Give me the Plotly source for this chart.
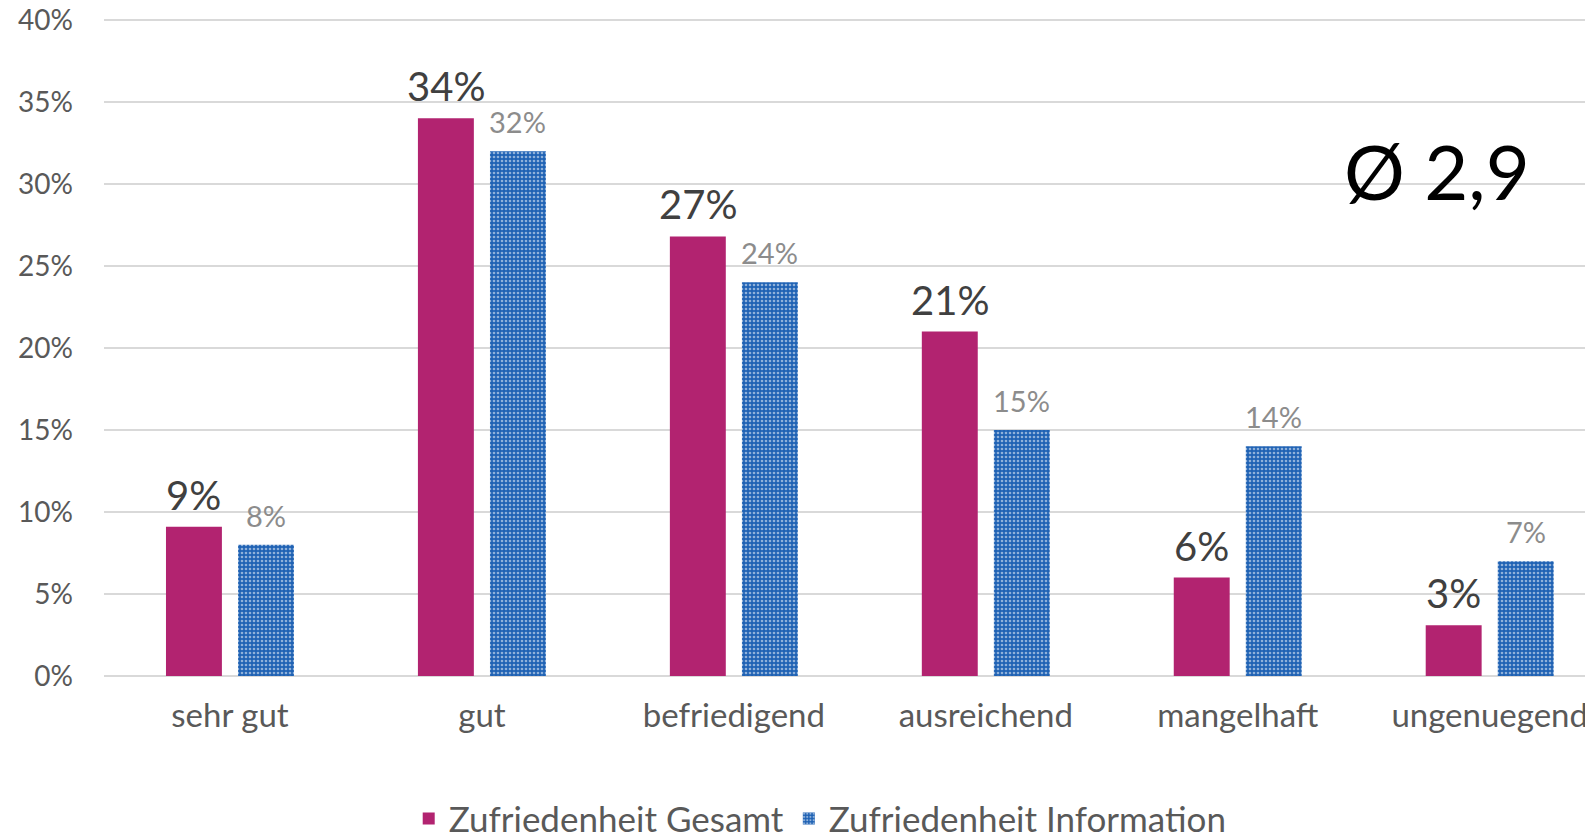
import plotly.graph_objects as go

categories = ["sehr gut", "gut", "befriedigend", "ausreichend", "mangelhaft", "ungenuegend"]
gesamt = [9.1, 34.0, 26.8, 21.0, 6.0, 3.1]
gesamt_labels = ["9%", "34%", "27%", "21%", "6%", "3%"]
information = [8.0, 32.0, 24.0, 15.0, 14.0, 7.0]
information_labels = ["8%", "32%", "24%", "15%", "14%", "7%"]
y_ticks = [0, 5, 10, 15, 20, 25, 30, 35, 40]
y_tick_labels = ["0%", "5%", "10%", "15%", "20%", "25%", "30%", "35%", "40%"]
average_text = "Ø 2,9"

FONT = "Lato"
PINK = "#B22370"
BLUE = "#1F62B4"
BAR_W = 0.222
SHIFT = 0.143

fig = go.Figure()

fig.add_trace(go.Bar(
    x=categories,
    y=gesamt,
    name="Zufriedenheit Gesamt",
    marker=dict(color=PINK, line=dict(width=0)),
    width=BAR_W,
    offset=-SHIFT - BAR_W / 2,
))

fig.add_trace(go.Bar(
    x=categories,
    y=information,
    name="Zufriedenheit Information",
    marker=dict(
        color=BLUE,
        line=dict(width=0),
        pattern=dict(shape=".", fgcolor="white", bgcolor=BLUE, size=4, solidity=0.35),
    ),
    width=BAR_W,
    offset=SHIFT - BAR_W / 2,
))

# data labels as annotations so the distance above the bars can be tuned
for i in range(len(categories)):
    fig.add_annotation(
        x=i - SHIFT, y=gesamt[i], text=gesamt_labels[i],
        xanchor="center", yanchor="bottom", yshift=6, showarrow=False,
        font=dict(family=FONT, size=40, color="#404040"),
    )
    fig.add_annotation(
        x=i + SHIFT, y=information[i], text=information_labels[i],
        xanchor="center", yanchor="bottom", yshift=10, showarrow=False,
        font=dict(family=FONT, size=29, color="#8C8C8C"),
    )

fig.add_annotation(
    text=average_text,
    x=0.895, y=0.764, xref="paper", yref="paper",
    xanchor="center", yanchor="middle",
    showarrow=False,
    font=dict(family=FONT, size=76, color="black"),
)

# page has 8px body margin, so the figure is a bit smaller than the window
fig.update_layout(
    width=1585,
    height=825,
    margin=dict(l=96, r=0, t=7, b=157, autoexpand=False),
    plot_bgcolor="white",
    paper_bgcolor="white",
    barmode="overlay",
    font=dict(family=FONT, color="#595959"),
    showlegend=True,
    legend=dict(
        orientation="h",
        x=0.481, xanchor="center",
        y=-0.216, yanchor="middle",
        font=dict(family=FONT, size=35, color="#595959"),
        itemwidth=30,
        traceorder="normal",
    ),
)

fig.update_xaxes(
    range=[-0.5, 5.41],
    automargin=False,
    showline=False,
    showgrid=False,
    ticks="",
    ticklabelstandoff=17,
    tickfont=dict(family=FONT, size=33, color="#595959"),
)

fig.update_yaxes(
    range=[0, 40.3],
    automargin=False,
    tickvals=y_ticks,
    ticktext=y_tick_labels,
    ticklabeloverflow="allow",
    showgrid=True,
    gridcolor="#D9D9D9",
    gridwidth=2,
    zeroline=True,
    zerolinecolor="#D9D9D9",
    zerolinewidth=2,
    ticks="",
    ticklabelstandoff=30,
    tickfont=dict(family=FONT, size=28, color="#595959"),
)

fig.write_html("out.html")
